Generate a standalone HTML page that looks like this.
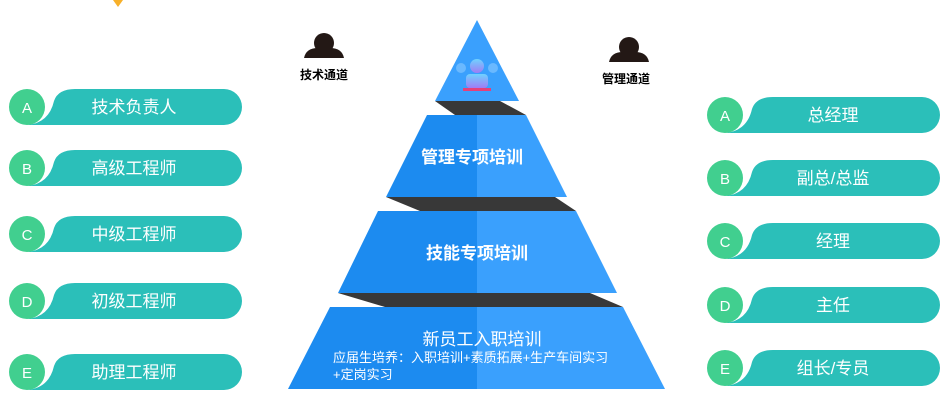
<!DOCTYPE html>
<html><head><meta charset="utf-8"><style>
body{margin:0;width:946px;height:403px;background:#fff;overflow:hidden}
svg text{font-family:"Liberation Sans","Noto Sans CJK SC",sans-serif}
</style></head><body>
<svg width="946" height="403" viewBox="0 0 946 403" xmlns="http://www.w3.org/2000/svg">
<defs>
<g id="pl">
<path d="M0,18 Q22,16 27,-6 Q31,-18 48,-18 H197 A18,18 0 0 1 197,18 Z" fill="#2bbfb9"/>
<circle cx="0" cy="0" r="18" fill="#41cf8f"/>
</g>
<linearGradient id="ic" x1="0" y1="0" x2="0" y2="1"><stop offset="0" stop-color="#6fd2ff"/><stop offset="1" stop-color="#9f7cf5"/></linearGradient>
</defs>
<polygon points="113,0 123,0 118,7" fill="#f7b02a"/>
<g fill="#fff" font-size="17" text-anchor="middle">
<g transform="translate(27,107)"><use href="#pl"/><text x="0" y="6" font-size="15">A</text><text x="107" y="6">技术负责人</text></g>
<g transform="translate(27,168)"><use href="#pl"/><text x="0" y="6" font-size="15">B</text><text x="107" y="6">高级工程师</text></g>
<g transform="translate(27,234)"><use href="#pl"/><text x="0" y="6" font-size="15">C</text><text x="107" y="6">中级工程师</text></g>
<g transform="translate(27,301)"><use href="#pl"/><text x="0" y="6" font-size="15">D</text><text x="107" y="6">初级工程师</text></g>
<g transform="translate(27,372)"><use href="#pl"/><text x="0" y="6" font-size="15">E</text><text x="107" y="6">助理工程师</text></g>
<g transform="translate(725,115)"><use href="#pl"/><text x="0" y="6" font-size="15">A</text><text x="108" y="6">总经理</text></g>
<g transform="translate(725,178)"><use href="#pl"/><text x="0" y="6" font-size="15">B</text><text x="108" y="6">副总/总监</text></g>
<g transform="translate(725,241)"><use href="#pl"/><text x="0" y="6" font-size="15">C</text><text x="108" y="6">经理</text></g>
<g transform="translate(725,305)"><use href="#pl"/><text x="0" y="6" font-size="15">D</text><text x="108" y="6">主任</text></g>
<g transform="translate(725,368)"><use href="#pl"/><text x="0" y="6" font-size="15">E</text><text x="108" y="6">组长/专员</text></g>
</g>
<g fill="#231815">
<circle cx="324" cy="43" r="10"/><path d="M304,58 Q306,48 318,48 L330,48 Q342,48 344,58 Z"/>
<circle cx="629" cy="47" r="10"/><path d="M609,62 Q611,52 623,52 L635,52 Q647,52 649,62 Z"/>
</g>
<text x="324" y="79" font-size="12" font-weight="bold" text-anchor="middle">技术通道</text>
<text x="626" y="83" font-size="12" font-weight="bold" text-anchor="middle">管理通道</text>
<polygon points="477,20 435,101 519,101" fill="#3aa0fd"/>
<g transform="translate(477,70)">
<circle cx="-16" cy="-2" r="5" fill="#7fc3ff" opacity=".7"/><circle cx="16" cy="-2" r="5" fill="#7fc3ff" opacity=".7"/>
<circle cx="0" cy="-4" r="7" fill="url(#ic)"/>
<rect x="-11" y="4" width="22" height="14" rx="4" fill="url(#ic)"/>
<rect x="-14" y="18" width="28" height="3" fill="#e5407a"/>
</g>
<polygon points="435,101 500,101 526,115 455,115" fill="#383838"/>
<polygon points="427,115 477,115 477,197 386,197" fill="#1c8bf0"/>
<polygon points="477,115 526,115 567,197 477,197" fill="#3aa0fd"/>
<polygon points="386,197 555,197 576,211 420,211" fill="#383838"/>
<polygon points="378,211 477,211 477,293 338,293" fill="#1c8bf0"/>
<polygon points="477,211 576,211 617,293 477,293" fill="#3aa0fd"/>
<polygon points="338,293 590,293 623,307 385,307" fill="#383838"/>
<polygon points="330,307 477,307 477,389 288,389" fill="#1c8bf0"/>
<polygon points="477,307 623,307 665,389 477,389" fill="#3aa0fd"/>
<g fill="#fff" text-anchor="middle">
<text x="472" y="163" font-size="17" font-weight="bold">管理专项培训</text>
<text x="477" y="259" font-size="17" font-weight="bold">技能专项培训</text>
<text x="482" y="345" font-size="17">新员工入职培训</text>
</g>
<text x="333" y="362" font-size="13" fill="#fff">应届生培养：入职培训+素质拓展+生产车间实习</text>
<text x="333" y="379" font-size="13" fill="#fff">+定岗实习</text>
</svg>
</body></html>
